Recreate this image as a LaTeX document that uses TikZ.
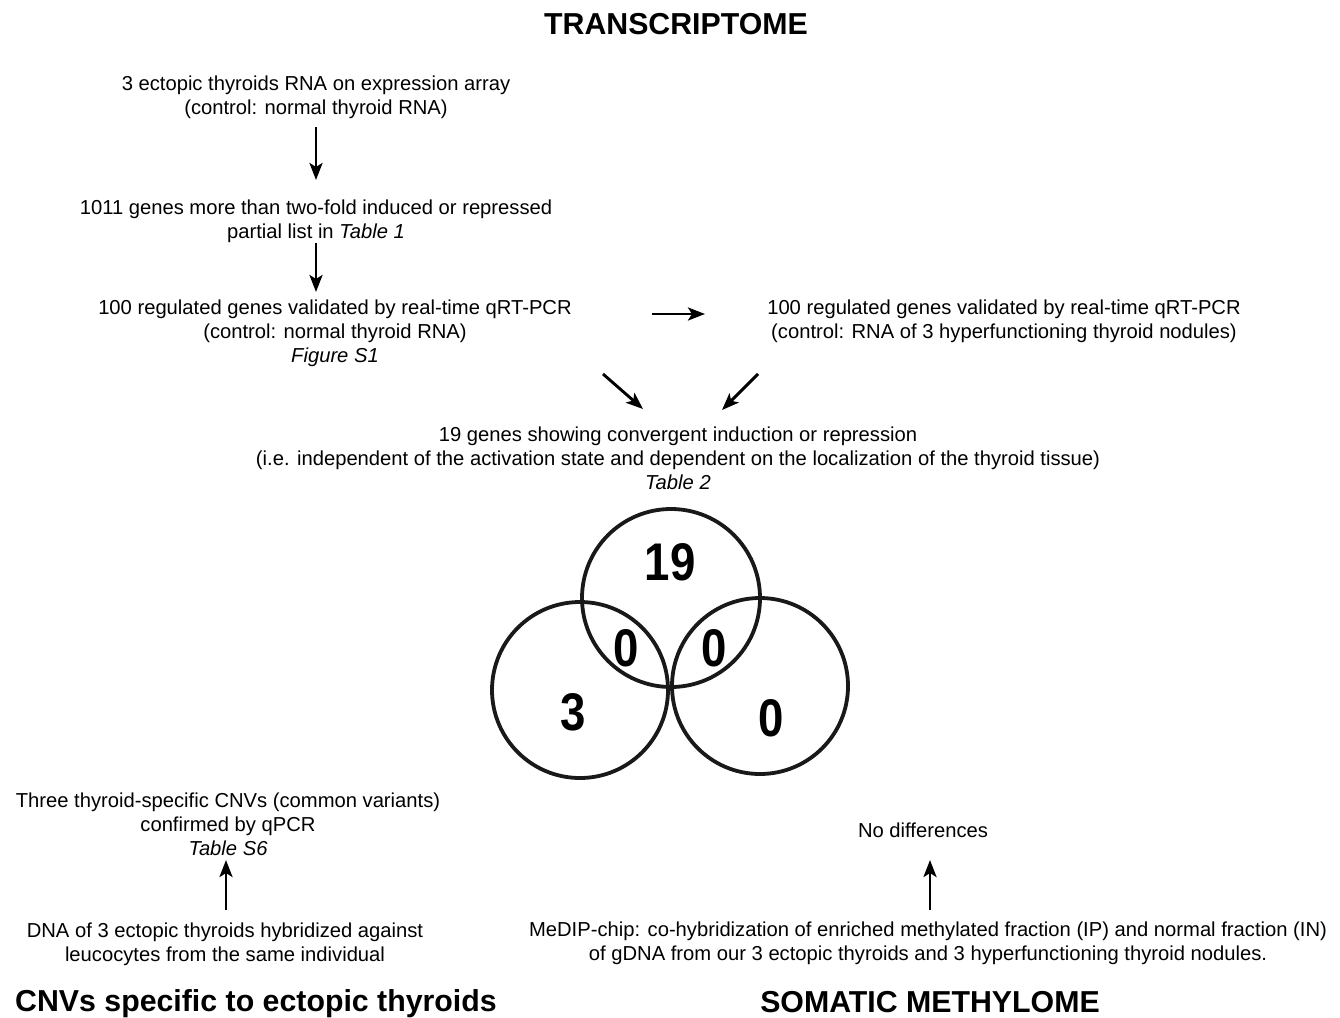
\documentclass[tikz,border=0pt]{standalone}
\usepackage{fontspec}
\setmainfont{Liberation Sans}
\newfontfamily\narrowbold[FakeStretch=0.86]{Liberation Sans Bold}
\usetikzlibrary{arrows.meta}
\begin{document}
\begin{tikzpicture}[x=1pt,y=-1pt,
  txt/.style={align=center,font=\fontsize{20.2}{24}\selectfont,inner sep=0pt},
  ttl/.style={font=\bfseries\fontsize{30.3}{32}\selectfont,inner sep=0pt},
  num/.style={font=\narrowbold\fontsize{53}{56}\selectfont,inner sep=0pt},
  arr/.style={line width=2.9pt,-{Stealth[length=17pt,width=13pt,inset=4pt]}},
  venn/.style={line width=3.8pt,draw=black!90}]
\path[use as bounding box,fill=white] (0,0) rectangle (1340,1017);

\node[ttl] (t1) at (676,24) {TRANSCRIPTOME};

\node[txt] (a) at (316,97) {3 ectopic thyroids RNA on expression array\\(control: normal thyroid RNA)};
\node[txt] (b) at (316,221) {1011 genes more than two-fold induced or repressed\\partial list in \textit{Table 1}};
\node[txt] (c) at (335,333) {100 regulated genes validated by real-time qRT-PCR\\(control: normal thyroid RNA)\\\textit{Figure S1}};
\node[txt] (d) at (1004,321) {100 regulated genes validated by real-time qRT-PCR\\(control: RNA of 3 hyperfunctioning thyroid nodules)};
\node[txt] (e) at (678,458) {19 genes showing convergent induction or repression\\(i.e. independent of the activation state and dependent on the localization of the thyroid tissue)\\\textit{Table 2}};

\coordinate (a1) at (316,127); \coordinate (a2) at (316,180);
\coordinate (b1) at (316,243); \coordinate (b2) at (316,292);
\coordinate (h1) at (652,314); \coordinate (h2) at (705,314);
\coordinate (l1) at (603,374); \coordinate (l2) at (643,409);
\coordinate (r1) at (758,374); \coordinate (r2) at (722,410);
\draw[arr] (a1) -- (a2);
\draw[arr] (b1) -- (b2);
\draw[arr] (h1) -- (h2);
\draw[arr] (l1) -- (l2);
\draw[arr] (r1) -- (r2);

% Venn
\draw[venn] (671,598) circle (89);
\draw[venn] (580,690) circle (88);
\draw[venn] (760,686) circle (88);
\node[num] (n19) at (670,562) {19};
\node[num] (n0a) at (626,648) {0};
\node[num] (n0b) at (714,648) {0};
\node[num] (n3) at (573,712) {3};
\node[num] (n0c) at (771,718) {0};

% CNVs
\node[txt] (f) at (228,824) {Three thyroid-specific CNVs (common variants)\\confirmed by qPCR\\\textit{Table S6}};
\node[txt] (g) at (225,944) {DNA of 3 ectopic thyroids hybridized against\\leucocytes from the same individual};
\coordinate (g1) at (226,910); \coordinate (g2) at (226,860);
\draw[arr] (g1) -- (g2);
\node[ttl,anchor=base] (t2) at (256,1011) {CNVs specific to ectopic thyroids};

% Methylome
\node[txt] (m1) at (923,830) {No differences};
\node[txt] (m2) at (928,943) {MeDIP-chip: co-hybridization of enriched methylated fraction (IP) and normal fraction (IN)\\of gDNA from our 3 ectopic thyroids and 3 hyperfunctioning thyroid nodules.};
\coordinate (m21) at (930,910); \coordinate (m22) at (930,860);
\draw[arr] (m21) -- (m22);
\node[ttl,anchor=base] (t3) at (930,1012) {SOMATIC METHYLOME};
\end{tikzpicture}
\end{document}
